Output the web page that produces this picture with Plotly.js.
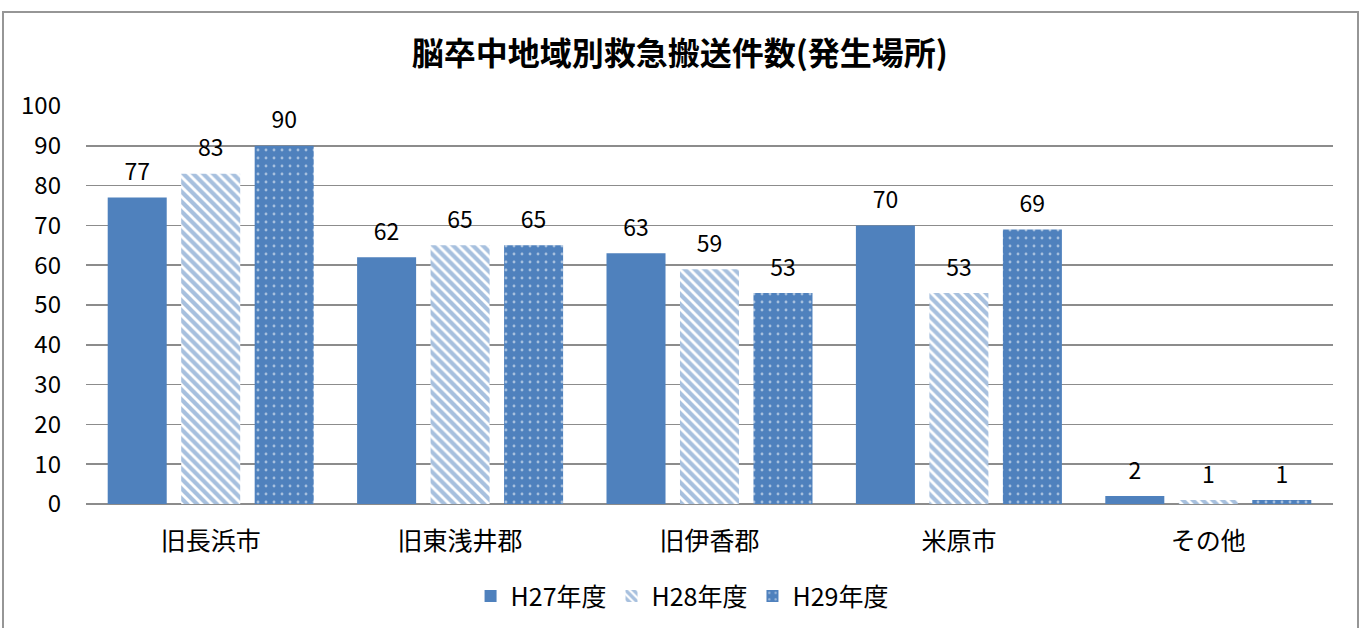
<!DOCTYPE html>
<html><head><meta charset="utf-8">
<script src="https://cdn.plot.ly/plotly-3.0.1.min.js"></script>
<style>
html,body{margin:0;padding:0;background:#fff;overflow:hidden;}
#chart{width:1365px;height:628px;}
#frame{position:absolute;left:2px;top:11px;width:1357px;height:700px;border:2px solid #969696;box-sizing:border-box;pointer-events:none;}
</style></head>
<body>
<div id="chart"></div>
<div id="frame"></div>
<script>
const categories = ['旧長浜市','旧東浅井郡','旧伊香郡','米原市','その他'];
const seriesNames = ['H27年度','H28年度','H29年度'];
const h27 = [77, 62, 63, 70, 2];
const h28 = [83, 65, 59, 53, 1];
const h29 = [90, 65, 53, 69, 1];
const yTicks = [0,10,20,30,40,50,60,70,80,90,100];

const blue = '#4F81BD';
const font = '"Noto Sans CJK JP", "Noto Sans", sans-serif';

function barTrace(name, vals, pattern, grp){
  const m = {color: blue, line:{width:0}};
  if (pattern) m.pattern = pattern;
  return {type:'bar', name, x:categories, y:vals, marker:m, offsetgroup:grp, alignmentgroup:'a', hoverinfo:'skip'};
}
function labelTrace(vals, grp){
  return {type:'scatter', mode:'markers+text', x:categories, y:vals, text:vals.map(String),
    textposition:'top center', textfont:{family:font, size:23, color:'#000'},
    marker:{size:17, opacity:0}, offsetgroup:grp, alignmentgroup:'a', showlegend:false, cliponaxis:false, hoverinfo:'skip'};
}

const data = [
  barTrace(seriesNames[0], h27, null, 'g1'),
  barTrace(seriesNames[1], h28, {shape:'\\', fgcolor:blue, bgcolor:'#fff', size:7, solidity:0.6, fillmode:'overlay'}, 'g2'),
  barTrace(seriesNames[2], h29, {shape:'.', fgcolor:'#fff', bgcolor:blue, size:8, solidity:0.1, fillmode:'overlay'}, 'g3'),
  labelTrace(h27, 'g1'),
  labelTrace(h28, 'g2'),
  labelTrace(h29, 'g3')
];

const layout = {
  width:1365, height:628,
  margin:{l:86, r:32, t:106, b:124, autoexpand:false},
  paper_bgcolor:'#fff', plot_bgcolor:'#fff',
  font:{family:font, color:'#000'},
  title:{text:'<b>脳卒中地域別救急搬送件数(発生場所)</b>', x:0.498, xref:'container', xanchor:'center', y:0.915, yanchor:'middle',
    font:{family:font, size:32, color:'#000'}},
  barmode:'group', bargap:0.116, bargroupgap:0.197,
  scattermode:'group', scattergap:0.116,
  xaxis:{type:'category', showgrid:false, showline:false, ticks:'', tickangle:0, tickfont:{family:font, size:25, color:'#000'}, ticklabelstandoff:20},
  yaxis:{range:[0,100], tickvals:yTicks, ticktext:yTicks.map(String), showgrid:true, gridcolor:'#8c8c8c', gridwidth:1.5,
    zeroline:true, zerolinecolor:'#8c8c8c', zerolinewidth:2, showline:false, ticks:'',
    tickfont:{family:font, size:24, color:'#000'}, ticklabelstandoff:24},
  showlegend:true,
  legend:{orientation:'h', x:0.478, xanchor:'center', y:-0.232, yanchor:'middle', font:{family:font, size:25, color:'#000'},
    tracegroupgap:0, traceorder:'normal'}
};

Plotly.newPlot('chart', data, layout, {displayModeBar:false, staticPlot:true});
</script>
</body></html>
